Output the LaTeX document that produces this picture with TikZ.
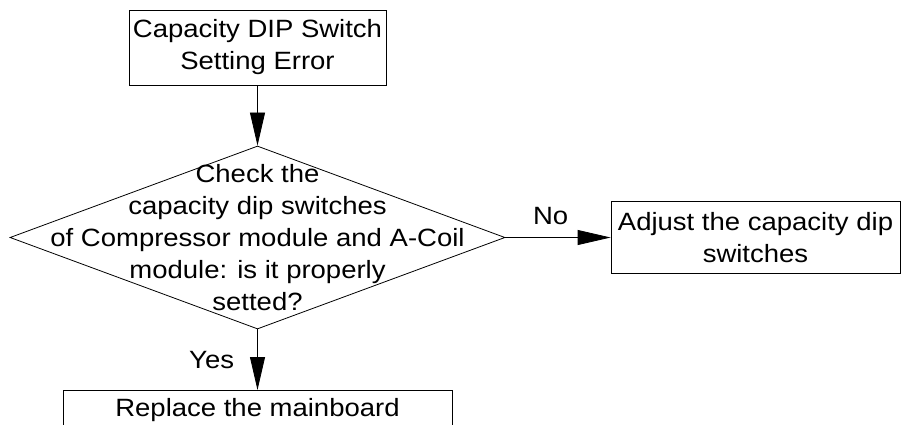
\documentclass[tikz,border=0pt]{standalone}
\usepackage{fontspec}
\setmainfont[FakeStretch=1.1]{Liberation Sans}
\usepackage{tikz}
\usetikzlibrary{arrows.meta,shapes.geometric}

\begin{document}
\begin{tikzpicture}[x=1pt,y=-1pt,line width=0.8pt,
  font=\fontsize{25}{32}\selectfont,
  box/.style={draw,rectangle,inner sep=0pt,align=center},
  decision/.style={draw,diamond,inner sep=0pt,minimum width=495pt,minimum height=183pt},
  arr/.style={-{Triangle[length=33pt,width=15pt]}}]
  \useasboundingbox (0,0) rectangle (901,425);
  \clip (0,0) rectangle (901,425);
  \node[box,minimum width=257pt,minimum height=75pt] (start) at (257.5,47.5) {Capacity DIP Switch\\Setting Error};
  \node[decision] (check) at (257.5,237.5) {};
  \node[align=center,inner sep=0pt] (checktext) at (check.center) {Check the\\capacity dip switches\\of Compressor module and A-Coil\\module: is it properly\\setted?};
  \node[box,minimum width=289pt,minimum height=72pt] (adjust) at (755.5,237.5) {Adjust the capacity dip\\switches};
  \node[box,minimum width=389pt,inner ysep=8pt,anchor=north] (replace) at (257.5,390) {Replace the mainboard};
  \draw[arr] (start.south) -- (check.north);
  \draw[arr] (check.east) -- node[above=12pt,inner sep=0pt,pos=0.43] (no) {No} (adjust.west);
  \draw[arr] (check.south) -- node[left=23pt,inner sep=0pt] (yes) {Yes} (replace.north);
\end{tikzpicture}
\end{document}
